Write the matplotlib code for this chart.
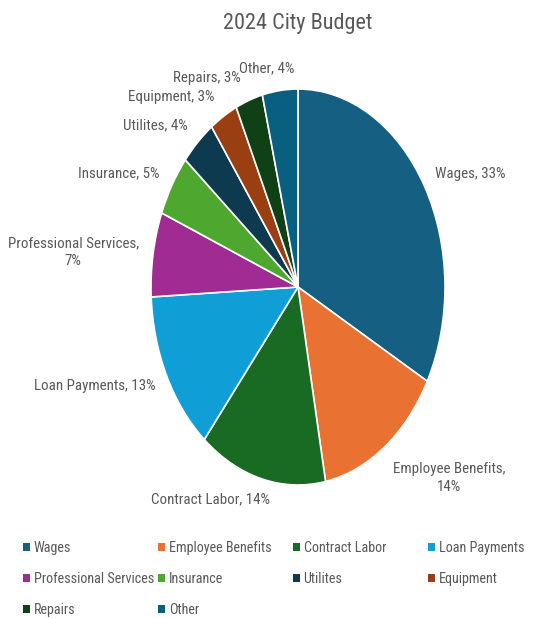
import numpy as np
import matplotlib
matplotlib.use("Agg")
import matplotlib.pyplot as plt
from matplotlib.patches import Patch

plt.rcParams['font.family'] = ['Roboto Condensed', 'DejaVu Sans']

# Budget share by category (percent)
categories = ["Wages", "Employee Benefits", "Contract Labor", "Loan Payments",
              "Professional Services", "Insurance", "Utilites", "Equipment",
              "Repairs", "Other"]
shares = [32.9, 14.1, 14.0, 13.2, 6.9, 5.0, 3.9, 3.1, 3.0, 3.9]
colors = ["#156082", "#E97132", "#196B24", "#0F9ED5", "#A02B93",
          "#4EA72E", "#0D3A4E", "#993F11", "#0F4016", "#095F80"]

# label layout: which labels wrap, and small pixel nudges
wrap = {"Employee Benefits", "Professional Services"}
nudges = [(-4, 0), (-2, -12), (13, 2), (5, 0), (3, -2),
          (3, 0), (2, 0), (0, -1), (-2, 0), (16, -1)]

W, H = 541, 618
fig = plt.figure(figsize=(W / 100, H / 100), dpi=100)

# pie centre (298, 287) px, radii 147 x 198 px (stretched picture)
cx, cy, rx, ry = 298, H - 287, 147, 198
lim = 1.25
ax = fig.add_axes([(cx - lim * rx) / W, (cy - lim * ry) / H,
                   2 * lim * rx / W, 2 * lim * ry / H])

wedges, _ = ax.pie(shares, colors=colors, startangle=90, counterclock=False,
                   radius=1, wedgeprops=dict(edgecolor="white", linewidth=1.2))
ax.set_aspect("auto")
ax.set_xlim(-lim, lim)
ax.set_ylim(-lim, lim)
ax.axis("off")

txt = "#595959"
for w, name, val, (dx, dy) in zip(wedges, categories, shares, nudges):
    mid = np.deg2rad((w.theta1 + w.theta2) / 2)
    x, y = 1.12 * np.cos(mid), 1.12 * np.sin(mid)
    sep = "\n" if name in wrap else " "
    label = f"{name},{sep}{round(val)}%"
    ax.annotate(label, xy=(x, y), xytext=(dx, dy), textcoords="offset pixels",
                ha="left" if x > 0 else "right", va="center",
                multialignment="center", fontsize=10.8, color=txt,
                linespacing=1.3, annotation_clip=False)

fig.text(cx / W, 1 - 23 / H, "2024 City Budget", ha="center", va="center",
         fontsize=16, color=txt)

handles = [Patch(facecolor=c, edgecolor="none") for c in colors]
col_x = [23, 158, 293, 428]
for c in range(4):
    fig.legend(handles[c::4], categories[c::4], loc="upper left",
               bbox_to_anchor=(col_x[c] / W, 1 - 541 / H),
               frameon=False, borderpad=0, borderaxespad=0,
               handlelength=0.5, handleheight=0.5, handletextpad=0.25,
               labelspacing=1.2, fontsize=10.2, labelcolor=txt)

fig.savefig("out.png", dpi=100)
